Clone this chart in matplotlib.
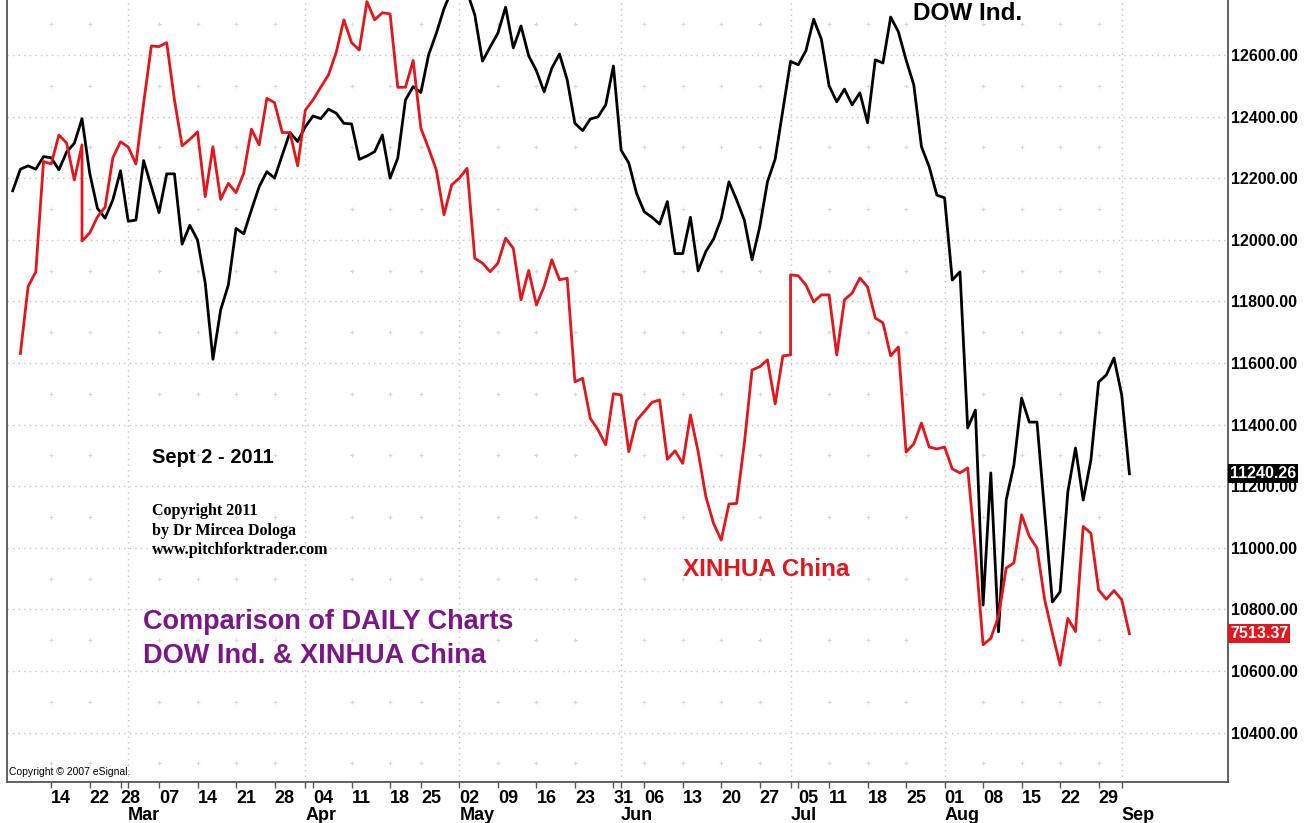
import matplotlib
matplotlib.use("Agg")
import matplotlib.pyplot as plt
import matplotlib.transforms as mtransforms
import pandas as pd

# Trading days shown on the chart (US market calendar)
start_day = "2011-02-07"
end_day = "2011-09-02"
us_holidays = ["2011-02-21", "2011-04-22", "2011-05-30", "2011-07-04"]

# DOW Industrials daily close, one value per trading day
dow = [12159, 12229, 12240, 12229, 12270, 12266, 12227, 12285, 12313, 12393,
       12216, 12102, 12070, 12129, 12224, 12060, 12064, 12257, 12172, 12088,
       12214, 12214, 11986, 12047, 11999, 11859, 11612, 11772, 11853, 12037,
       12019, 12097, 12172, 12221, 12200, 12275, 12348, 12319, 12367, 12402,
       12393, 12424, 12411, 12378, 12376, 12261, 12272, 12286, 12340, 12200,
       12265, 12454, 12497, 12478, 12600, 12670, 12750, 12810, 12807, 12805,
       12730, 12580, 12626, 12671, 12755, 12623, 12694, 12597, 12549, 12480,
       12557, 12603, 12519, 12378, 12354, 12392, 12399, 12438, 12564, 12291,
       12249, 12151, 12091, 12073, 12051, 12124, 11955, 11955, 12073, 11899,
       11962, 12002, 12069, 12188, 12129, 12064, 11935, 12042, 12188, 12262,
       12421, 12579, 12568, 12614, 12716, 12651, 12500, 12448, 12489, 12438,
       12477, 12380, 12584, 12574, 12723, 12675, 12584, 12503, 12302, 12237,
       12145, 12136, 11869, 11896, 11389, 11447, 10814, 11243, 10727, 11155,
       11269, 11486, 11408, 11408, 11113, 10824, 10857, 11181, 11324, 11155,
       11285, 11538, 11561, 11616, 11496, 11240.26]

# XINHUA China overlay (drawn on the DOW price scale), starts on the 2nd day
xinhua = [11631, 11848, 11896, 12254, 12246, 12340, 12314, 12194, 12308,
          12022, 12074, 12106, 12266, 12318, 12301, 12246, 12443, 12629, 12627,
          12640, 12454, 12305, 12326, 12350, 12140, 12302, 12131, 12183, 12153,
          12216, 12359, 12308, 12459, 12445, 12348, 12348, 12240, 12421, 12454,
          12495, 12535, 12608, 12714, 12640, 12616, 12773, 12714, 12737, 12733,
          12495, 12495, 12582, 12362, 12297, 12227, 12081, 12178, 12200, 12232,
          11940, 11924, 11896, 11924, 12005, 11972, 11805, 11900, 11788, 11848,
          11935, 11870, 11875, 11539, 11550, 11420, 11383, 11334, 11500, 11496,
          11312, 11413, 11442, 11472, 11480, 11287, 11315, 11274, 11431, 11312,
          11166, 11079, 11025, 11142, 11144, 11339, 11577, 11588, 11610, 11467,
          11623, 11626, 11883, 11853, 11798, 11821, 11821, 11626, 11805, 11827,
          11876, 11847, 11746, 11730, 11623, 11652, 11311, 11337, 11405, 11327,
          11321, 11327, 11256, 11243, 11259, 10990, 10685, 10706, 10777, 10934,
          10951, 11107, 11037, 10999, 10831, 10722, 10619, 10771, 10728, 11069,
          11047, 10863, 10833, 10861, 10831, 10721]
xinhua_first = 1
# China traded on a US holiday: extra value drawn on the same bar
xinhua_extra = {9: 11996, 101: 11886}

dow_last_label = "11240.26"
xinhua_last_label = "7513.37"
price_ticks = [10400, 10600, 10800, 11000, 11200, 11400, 11600, 11800,
               12000, 12200, 12400, 12600, 12800]

# Colours
red = "#e3161c"
purple = "#7b1689"
grid_col = "#c4c4c4"

sans = ["Liberation Sans", "DejaVu Sans"]
serif = ["Liberation Serif", "DejaVu Serif"]

days = pd.bdate_range(start_day, end_day)
days = days[~days.isin(pd.to_datetime(us_holidays))]
n = len(days)

# first trading day of every week and of every month
week_start = [0]
month_start = []
for i in range(1, n):
    if days[i].weekday() < days[i - 1].weekday():
        week_start.append(i)
    if days[i].month != days[i - 1].month:
        month_start.append(i)

# build the xinhua path
xin_x = []
xin_y = []
for k in range(len(xinhua)):
    i = k + xinhua_first
    xin_x.append(i)
    xin_y.append(xinhua[k])
    if i in xinhua_extra:
        xin_x.append(i)
        xin_y.append(xinhua_extra[i])

fig = plt.figure(figsize=(13.14, 8.23), dpi=100)
fig.patch.set_facecolor("white")
ax = fig.add_axes([7 / 1314, 41 / 823, 1221 / 1314, 801 / 823])

ax.set_xlim(-0.74, 157.8)
ax.set_ylim(10239.6, 12840)

# grid: dotted price lines, dotted month lines, faint dots in between
for p in price_ticks:
    ax.axhline(p, color=grid_col, lw=1.0, ls=(0, (1, 3)), zorder=0)
for m in month_start:
    ax.axvline(m, color=grid_col, lw=1.0, ls=(0, (1, 3)), zorder=0)
dot_x = []
dot_y = []
for w in week_start[1:]:
    near = False
    for m in month_start:
        if abs(w - m) <= 1:
            near = True
    if near:
        continue
    for p in range(10300, 12800, 200):
        dot_x.append(w)
        dot_y.append(p)
ax.plot(dot_x, dot_y, ls="none", marker="+", ms=3, mew=0.8, color="#d8d8d8", zorder=0)

ax.plot(range(n), dow, color="black", lw=2.0, zorder=3)
ax.plot(xin_x, xin_y, color=red, lw=2.0, zorder=3)

# frame
for side in ["left", "bottom", "right"]:
    ax.spines[side].set_color("#555555")
    ax.spines[side].set_linewidth(1.3)
ax.spines["top"].set_visible(False)

# right price axis
ax.yaxis.tick_right()
ax.set_yticks(price_ticks)
ax.set_yticklabels(["%.2f" % p for p in price_ticks])
ax.tick_params(axis="y", length=0, pad=2.5)
for lab in ax.get_yticklabels():
    lab.set_family(sans)
    lab.set_fontweight("bold")
    lab.set_fontsize(11.5)

# bottom date axis
ax.set_xticks(week_start[1:])
ax.set_xticklabels([days[i].strftime("%d") for i in week_start[1:]])
ax.set_xticks(month_start, minor=True)
ax.tick_params(axis="x", which="both", direction="out", length=4, width=1,
               color="#555555", pad=2)
for lab in ax.get_xticklabels():
    lab.set_family(sans)
    lab.set_fontweight("bold")
    lab.set_fontsize(13)
    lab.set_horizontalalignment("left")

trans = mtransforms.blended_transform_factory(ax.transData, ax.transAxes)
for m in month_start:
    ax.annotate(days[m].strftime("%b"), xy=(m, 0), xycoords=trans,
                xytext=(0, -18), textcoords="offset points",
                ha="left", va="top", fontsize=13, fontweight="bold",
                family=sans, annotation_clip=False)

# last value boxes on the price axis
ytrans = mtransforms.blended_transform_factory(ax.transAxes, ax.transData)
ax.annotate(dow_last_label, xy=(1, dow[-1]), xycoords=ytrans,
            xytext=(1.5, 0), textcoords="offset points", ha="left", va="center",
            color="white", fontsize=11.5, fontweight="bold", family=sans,
            bbox=dict(boxstyle="square,pad=0.12", fc="black", ec="none"),
            annotation_clip=False, zorder=5)
ax.annotate(xinhua_last_label, xy=(1, xinhua[-1]), xycoords=ytrans,
            xytext=(1.5, 0), textcoords="offset points", ha="left", va="center",
            color="white", fontsize=11.5, fontweight="bold", family=sans,
            bbox=dict(boxstyle="square,pad=0.12", fc=red, ec="none"),
            annotation_clip=False, zorder=5)

# chart notes
ax.text(116.9, 12733, "DOW Ind.", fontsize=17.5, fontweight="bold",
        family=sans, va="center", ha="left")
ax.text(87.0, 10931, "XINHUA China", fontsize=17.5, fontweight="bold",
        family=sans, color=red, va="center", ha="left")
ax.text(18.1, 11292, "Sept 2 - 2011", fontsize=14.5, fontweight="bold",
        family=sans, va="center", ha="left")
ax.text(18.1, 11145, "Copyright 2011\nby Dr Mircea Dologa\nwww.pitchforktrader.com",
        fontsize=11.5, fontweight="bold", family=serif, va="top", ha="left",
        linespacing=1.3)
ax.text(16.9, 10800, "Comparison of DAILY Charts\nDOW Ind. & XINHUA China",
        fontsize=19.5, fontweight="bold", family=sans, color=purple,
        va="top", ha="left", linespacing=1.4)
ax.text(-0.5, 10272, "Copyright \u00a9 2007 eSignal.", fontsize=7.5,
        family=sans, va="center", ha="left")

fig.savefig("out.png", dpi=100, facecolor="white")
